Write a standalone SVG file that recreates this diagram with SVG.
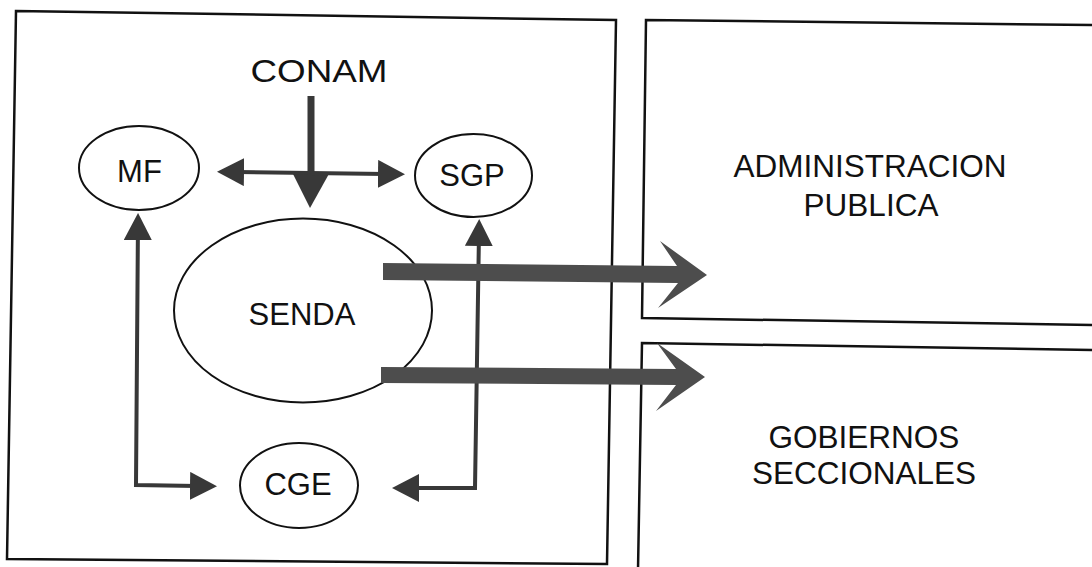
<svg xmlns="http://www.w3.org/2000/svg" width="1092" height="567" viewBox="0 0 1092 567">
  <style>
    .frame { fill: none; stroke: #111; stroke-width: 2.5; stroke-linejoin: miter; }
    .node { fill: #fff; stroke: #111; stroke-width: 2; }
    .lbl { font-family: "Liberation Sans", Arial, sans-serif; font-size: 31px; fill: #111; text-anchor: middle; }
    .big { font-size: 31.5px; }
    .thin { fill: none; stroke: #383838; stroke-width: 4; stroke-linejoin: miter; }
    .head { fill: #383838; }
    .thick { fill: #4d4d4d; }
  </style>
  <defs>
    <marker id="ah" markerUnits="userSpaceOnUse" markerWidth="28" markerHeight="28" refX="7" refY="14" orient="auto-start-reverse" viewBox="0 0 28 28">
      <path d="M0,0 L27,14 L0,28 z" fill="#383838"/>
    </marker>
  </defs>

  <rect width="1092" height="567" fill="#fff"/>

  <g id="panel-left">
    <polygon class="frame" points="16,11 616,20 607,564 7,559"/>
  </g>
  <g id="node-admin">
    <polyline class="frame" points="1092,25 646,20 642,318 1092,325"/>
    <text class="lbl big" x="870" y="177">ADMINISTRACION</text>
    <text class="lbl big" x="871" y="216">PUBLICA</text>
  </g>
  <g id="node-gob">
    <polyline class="frame" points="1092,350 642,343 638,570"/>
    <text class="lbl big" x="864" y="448">GOBIERNOS</text>
    <text class="lbl big" x="864" y="484">SECCIONALES</text>
  </g>

  <g id="node-conam">
    <text class="lbl" x="319" y="82" font-size="39" textLength="137" lengthAdjust="spacingAndGlyphs">CONAM</text>
  </g>
  <g id="node-mf">
    <ellipse class="node" cx="139" cy="168" rx="60" ry="42"/>
    <text class="lbl" x="139.5" y="182">MF</text>
  </g>
  <g id="node-sgp">
    <ellipse class="node" cx="473.5" cy="175.5" rx="58.5" ry="41.5"/>
    <text class="lbl" x="472" y="186">SGP</text>
  </g>
  <g id="node-senda">
    <ellipse class="node" cx="303" cy="310.5" rx="129" ry="92"/>
    <text class="lbl" x="302" y="325">SENDA</text>
  </g>
  <g id="node-cge">
    <ellipse class="node" cx="299" cy="485.5" rx="59" ry="42.5"/>
    <text class="lbl" x="298" y="495">CGE</text>
  </g>

  <g id="connectors">
    <!-- CONAM to SENDA -->
    <rect x="307.5" y="96" width="7" height="80" fill="#383838"/>
    <polygon class="head" points="292,172 330,172 310,208"/>
    <!-- MF <-> SGP -->
    <line class="thin" x1="237" y1="172" x2="385" y2="174" marker-start="url(#ah)" marker-end="url(#ah)"/>
    <!-- MF <-> CGE -->
    <polyline class="thin" points="197,486 136,485 137.9,233" marker-start="url(#ah)" marker-end="url(#ah)"/>
    <!-- SGP <-> CGE -->
    <polyline class="thin" points="412,488 475,488 478.9,239" marker-start="url(#ah)" marker-end="url(#ah)"/>
    <!-- SENDA to ADMINISTRACION PUBLICA -->
    <polygon class="thick" points="383,263 677,266 660,241 707,275 658,308 678,283 383,280"/>
    <!-- SENDA to GOBIERNOS SECCIONALES -->
    <polygon class="thick" points="381,367 676,369 657,343 705,377 656,411 676,385 381,383"/>
  </g>
</svg>
